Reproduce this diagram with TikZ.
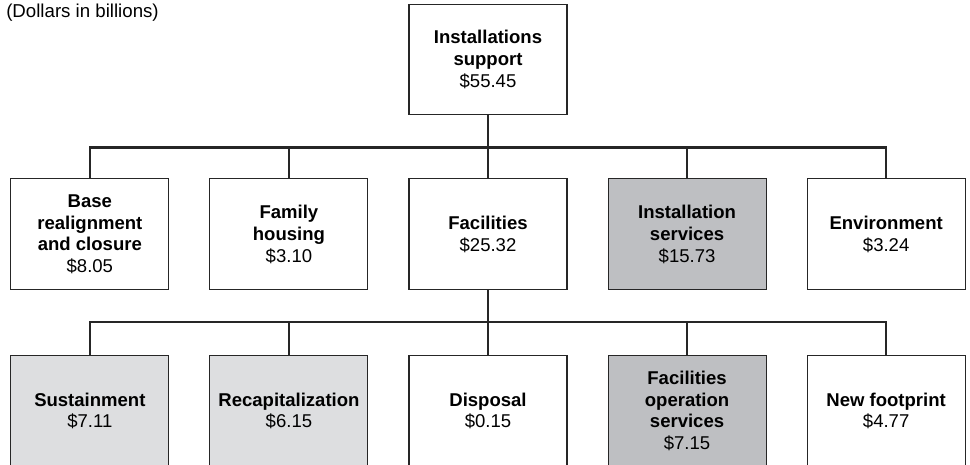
\documentclass[tikz,border=0pt]{standalone}
\usepackage{fontspec}
\setmainfont{Liberation Sans}
\usepackage{tikz}
\usetikzlibrary{positioning, calc}
\definecolor{darkfill}{RGB}{190,191,194}
\definecolor{lightfill}{RGB}{221,222,224}

\begin{document}
\begin{tikzpicture}[x=0.75pt,y=0.75pt,node distance=47.25pt and 30pt,
		box/.style={draw=black!85,line width=0.8pt,fill=white,minimum width=118.5pt,
			minimum height=83pt,align=center,inner sep=2pt,
			font=\fontsize{13.9}{16.3}\selectfont},
		conn/.style={line width=1.9pt,black!85}]
		
		\useasboundingbox (0,0) rectangle (970,-464);
		\node[anchor=north west,inner sep=0pt,font=\fontsize{14}{16}\selectfont] (unit) at (6,-4) {(Dollars in billions)};
		
		\node[box] (top) at (488,-59.5) {\textbf{Installations}\\ \textbf{support}\\ \$55.45};
		\node[box] (fac) [below=of top] {\textbf{Facilities}\\ \$25.32};
		\node[box] (fh) [left=of fac] {\textbf{Family}\\ \textbf{housing}\\ \$3.10};
		\node[box] (brc) [left=of fh] {\textbf{Base}\\ \textbf{realignment}\\ \textbf{and closure}\\ \$8.05};
		\node[box,fill=darkfill] (isv) [right=of fac] {\textbf{Installation}\\ \textbf{services}\\ \$15.73};
		\node[box] (env) [right=of isv] {\textbf{Environment}\\ \$3.24};
		
		\node[box] (disp) [below=48.75pt of fac] {\textbf{Disposal}\\ \$0.15};
		\node[box,fill=lightfill] (recap) [left=of disp] {\textbf{Recapitalization}\\ \$6.15};
		\node[box,fill=lightfill] (sust) [left=of recap] {\textbf{Sustainment}\\ \$7.11};
		\node[box,fill=darkfill] (fos) [right=of disp] {\textbf{Facilities}\\ \textbf{operation}\\ \textbf{services}\\ \$7.15};
		\node[box] (nfp) [right=of fos] {\textbf{New footprint}\\ \$4.77};
		
		% tree lines
		\foreach \c in {brc,fh,fac,isv,env}
		\draw[conn] (top.south) -- ++(0,-32) -| (\c.north);
		\foreach \c in {sust,recap,disp,fos,nfp}
		\draw[conn] (fac.south) -- ++(0,-32) -| (\c.north);
		\end{tikzpicture}
\end{document}
